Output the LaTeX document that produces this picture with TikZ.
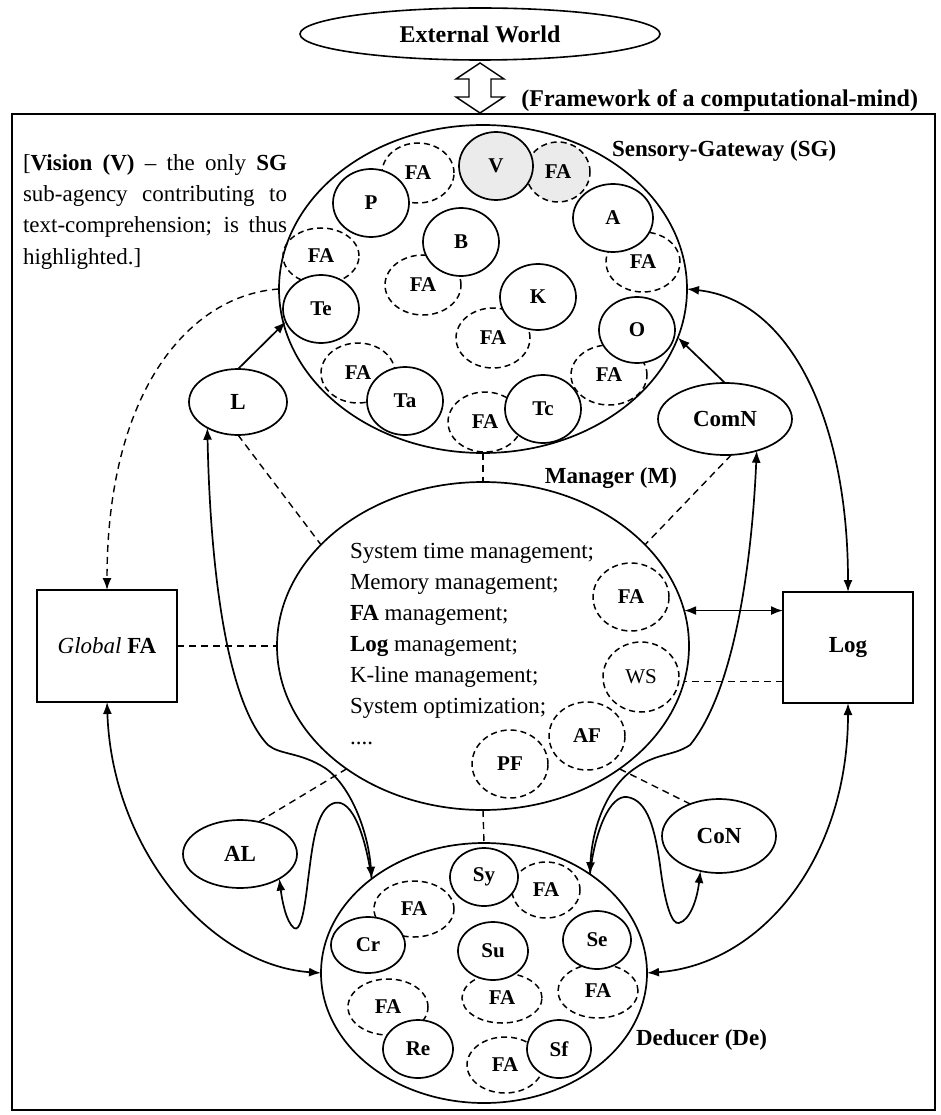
\documentclass[tikz,border=0pt]{standalone}
\usepackage{fontspec}
\setmainfont{Liberation Serif}
\usetikzlibrary{arrows.meta,shapes.geometric}
\definecolor{vgray}{gray}{0.92}
\newcommand\labfont{\fontsize{21}{24}\selectfont\bfseries}
\newcommand\txtfont{\fontsize{23}{31}\selectfont}
\newcommand\txtbf{\fontsize{23}{31}\selectfont\bfseries}
\newcommand\ttlfont{\fontsize{24}{30}\selectfont\bfseries}

\begin{document}
\begin{tikzpicture}[x=1pt,y=-1pt,
  every node/.style={inner sep=0pt,outer sep=0pt},
  >={Latex[length=12pt,width=9pt]},
  sz/.style 2 args={minimum width=#1pt,minimum height=#2pt},
  region/.style={draw,ellipse,line width=1.7pt},
  agent/.style={draw,ellipse,line width=1.7pt,fill=white,font=\labfont},
  fapart/.style={draw,ellipse,line width=1.5pt,dash pattern=on 6pt off 4pt,font=\labfont},
  outer/.style={draw,ellipse,line width=1.7pt,font=\txtbf},
  store/.style={draw,line width=2.6pt,font=\txtfont},
  link/.style={line width=1.7pt},
  dlink/.style={line width=1.4pt,dash pattern=on 7pt off 5pt},
  txt/.style={anchor=base west,font=\txtfont},
]
\useasboundingbox (0,0) rectangle (941,1115);

% outer world and the frame of the mind
\node[draw,ellipse,line width=1.6pt,sz={360}{52},font=\ttlfont] (ew) at (480,34) {External World};
\draw[line width=1.4pt] (480,63) -- (504,79) -- (491,79) -- (491,97) -- (504,97) -- (480,113)
  -- (456,97) -- (469,97) -- (469,79) -- (456,79) -- cycle;
\node[anchor=east,font=\ttlfont] (fw) at (918,101) {(Framework of a computational-mind)};
\draw[line width=1.4pt] (12,114) rectangle (935,1110);

% note on vision
\node[txt] (vis1) at (23,171) {\makebox[264pt][s]{[\textbf{Vision (V)} – the only \textbf{SG}}};
\node[txt] (vis2) at (23,202) {\makebox[264pt][s]{sub-agency contributing to}};
\node[txt] (vis3) at (23,233) {\makebox[264pt][s]{text-comprehension; is thus}};
\node[txt] (vis4) at (23,264) {highlighted.]};

% the three main agencies
\node[region,sz={408}{328}] (sg) at (483,289) {};
\node[region,sz={412}{328}] (mgr) at (483,646) {};
\node[region,sz={326}{260}] (de) at (484,973) {};

\node[anchor=west,font=\txtbf] (sglab) at (612,151) {Sensory-Gateway (SG)};
\node[anchor=east,font=\txtbf] (mlab) at (677,478) {Manager (M)};
\node[anchor=west,font=\txtbf] (delab) at (636,1040) {Deducer (De)};

% sensory-gateway sub-agencies
\node[fapart,sz={72}{60}] (sgfa1) at (418,173) {FA};
\node[fapart,sz={64}{60},fill=vgray] (sgfav) at (558,172) {FA};
\node[fapart,sz={74}{60}] (sgfa2) at (643,262) {FA};
\node[fapart,sz={76}{56}] (sgfa3) at (321,256) {FA};
\node[fapart,sz={76}{60}] (sgfa4) at (423,285) {FA};
\node[fapart,sz={74}{60}] (sgfa5) at (493,338) {FA};
\node[fapart,sz={74}{60}] (sgfa6) at (358,373) {FA};
\node[fapart,sz={76}{60}] (sgfa7) at (609,375) {FA};
\node[fapart,sz={74}{60}] (sgfa8) at (485,422) {FA};
\node[agent,sz={74}{68},fill=vgray] (sgV) at (496,166) {V};
\node[agent,sz={76}{68}] (sgP) at (371,203) {P};
\node[agent,sz={80}{68}] (sgA) at (613,218) {A};
\node[agent,sz={76}{68}] (sgB) at (461,242) {B};
\node[agent,sz={76}{66}] (sgK) at (538,297) {K};
\node[agent,sz={76}{68}] (sgTe) at (321,309) {Te};
\node[agent,sz={76}{66}] (sgO) at (637,330) {O};
\node[agent,sz={76}{68}] (sgTa) at (405,401) {Ta};
\node[agent,sz={76}{68}] (sgTc) at (543,409) {Tc};

% manager contents
\node[txt] (m1) at (350,558) {System time management;};
\node[txt] (m2) at (350,589) {Memory management;};
\node[txt] (m3) at (350,620) {\textbf{FA} management;};
\node[txt] (m4) at (350,651) {\textbf{Log} management;};
\node[txt] (m5) at (350,682) {K-line management;};
\node[txt] (m6) at (350,713) {System optimization;};
\node[txt] (m7) at (350,744) {....};
\node[fapart,sz={76}{68}] (mfa) at (631,597) {FA};
\node[fapart,sz={76}{70},font=\fontsize{21}{24}\selectfont] (mws) at (641,677) {WS};
\node[fapart,sz={76}{68}] (maf) at (587,736) {AF};
\node[fapart,sz={76}{68}] (mpf) at (510,764) {PF};

% deducer sub-agencies
\node[fapart,sz={68}{56}] (defa1) at (546,890) {FA};
\node[fapart,sz={80}{56}] (defa2) at (414,909) {FA};
\node[fapart,sz={80}{50}] (defa3) at (502,998) {FA};
\node[fapart,sz={80}{54}] (defa4) at (598,991) {FA};
\node[fapart,sz={80}{56}] (defa5) at (388,1007) {FA};
\node[fapart,sz={76}{56}] (defa6) at (505,1065) {FA};
\node[agent,sz={68}{58}] (deSy) at (484,877) {Sy};
\node[agent,sz={74}{56}] (deCr) at (368,945) {Cr};
\node[agent,sz={70}{58}] (deSu) at (493,951) {Su};
\node[agent,sz={68}{58}] (deSe) at (597,940) {Se};
\node[agent,sz={70}{58}] (deRe) at (418,1049) {Re};
\node[agent,sz={64}{58}] (deSf) at (559,1049) {Sf};

% side agencies and stores
\node[outer,sz={98}{66}] (L) at (238,402) {L};
\node[outer,sz={134}{72}] (comn) at (725,419) {ComN};
\node[outer,sz={114}{68}] (al) at (240,854) {AL};
\node[outer,sz={114}{74}] (con) at (719,836) {CoN};
\node[store,sz={140}{112}] (gfa) at (107,646) {\textit{Global} \textbf{FA}};
\node[store,sz={130}{111},font=\txtbf] (log) at (848,647.5) {Log};

% dashed management links
\draw[dlink] (sg.south) -- (mgr.north);
\draw[dlink] (mgr.south) -- (de.north);
\draw[dlink] (L.south) -- (mgr.148);
\draw[dlink] (comn.-80) -- (mgr.32);
\draw[dlink] (al.60) -- (mgr.-138);
\draw[dlink] (con.132) -- (mgr.-42);
\draw[dlink] (gfa.east) -- (mgr.west);
\draw[dlink] (log.west |- mgr.-10) -- (mgr.-10);
\draw[dlink,->] (sg.west) .. controls (190,295) and (107,390) .. (gfa.north);

% solid links
\draw[link,->] (L.north) -- (sgTe.200);
\draw[link,->] (comn.north) -- (sg.-14);
\draw[link,<->] (mgr.10) -- (log.west |- mgr.10);
\draw[link,<->] (sg.east) .. controls (790,300) and (848,420) .. (log.north);
\draw[link,<->] (gfa.south) .. controls (112,850) and (210,965) .. (de.west);
\draw[link,<->] (log.south) .. controls (848,860) and (760,965) .. (de.east);
\draw[link,<->] (L.-140) .. controls (210,560) and (225,700) .. (268,745)
  .. controls (280,755) and (300,752) .. (325,768)
  .. controls (350,785) and (368,830) .. (de.140);
\draw[link,<->] (comn.-45) .. controls (752,560) and (735,690) .. (690,745)
  .. controls (672,757) and (655,752) .. (630,772)
  .. controls (605,792) and (592,830) .. (de.43);
\draw[link,->] (de.140) .. controls (362,815) and (345,795) .. (330,805)
  .. controls (315,815) and (312,850) .. (308,880)
  .. controls (304,915) and (300,932) .. (294,928)
  .. controls (286,922) and (282,900) .. (al.-32);
\draw[link,->] (de.43) .. controls (595,830) and (610,795) .. (627,797)
  .. controls (648,800) and (655,830) .. (660,865)
  .. controls (665,905) and (672,925) .. (679,923)
  .. controls (690,920) and (697,900) .. (con.-118);
\end{tikzpicture}
\end{document}
